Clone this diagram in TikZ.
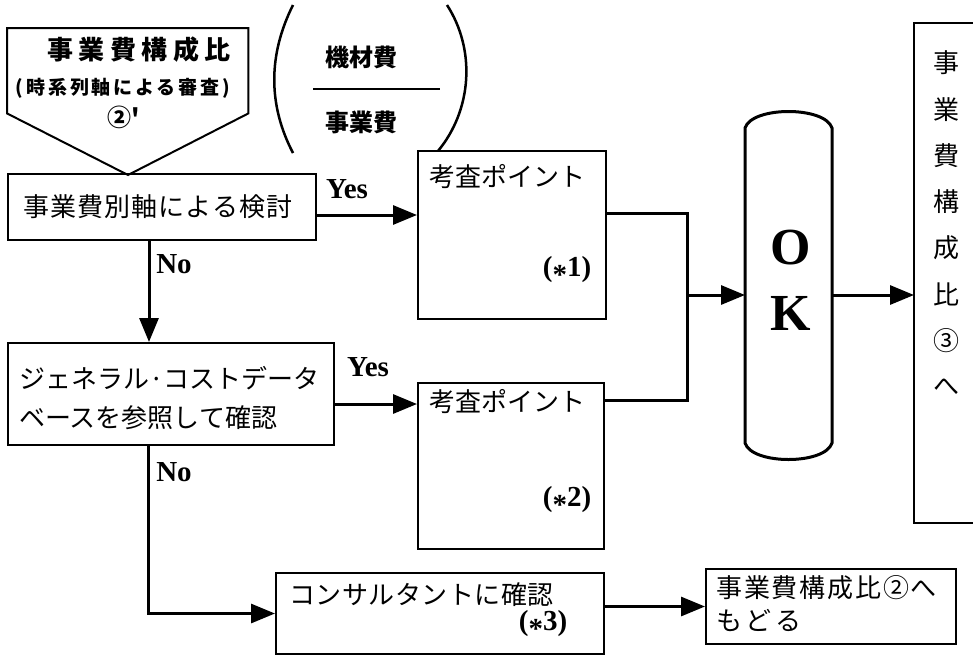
\documentclass[tikz,border=0pt]{standalone}
\usepackage{fontspec}
\setmainfont{Liberation Serif}
\newfontfamily\cjk{Noto Sans CJK JP}
\usetikzlibrary{arrows.meta,calc}
\newcommand\cjt[3]{{\cjk\fontsize{#1}{#1}\selectfont\addfontfeature{LetterSpace=#2}#3}}
\newcommand\cjb[3]{{\cjk\bfseries\fontsize{#1}{#1}\selectfont\addfontfeature{LetterSpace=#2}#3}}
\newcommand\lat[2]{{\fontsize{#1}{#1}\selectfont\bfseries #2}}
\newcommand\starnum[1]{\lat{29}{(\raisebox{-0.28em}{*}#1)}}
\begin{document}
\begin{tikzpicture}[x=1pt,y=-1pt,
  bd/.style={line width=2pt,line join=miter},
  box/.style={draw,line width=2pt,inner sep=0pt,anchor=north west},
  ghost/.style={inner sep=0pt,anchor=north west},
  txt/.style={inner sep=0pt},
  conn/.style={line width=3pt,-{Triangle[length=24pt,width=19pt]}},
  wire/.style={line width=3pt}]
\useasboundingbox[fill=white] (0,0) rectangle (973,654);

% pentagon connector
\node[ghost,minimum width=241pt,minimum height=85pt] (pent) at (7,28) {};
\coordinate (tip) at (128,175);
\draw[bd] (pent.south west) -- (pent.north west) -- (pent.north east) -- (pent.south east) -- (tip) -- cycle;
\node[txt] (p1) at (139,50) {\cjb{26}{21}{事業費構成比}};
\node[txt] (p2) at (123,88) {\cjb{19}{15}{(時系列軸による審査)}};
\node[txt] (p3) at (124,117) {\cjb{24}{0}{②'}};

% fraction in parentheses
\node[txt] (f1) at (361,57) {\cjb{24}{0}{機材費}};
\node[txt] (f2) at (361,122) {\cjb{24}{0}{事業費}};
\coordinate (fl) at (313,89);
\coordinate (fr) at (440,89);
\draw[line width=2pt] (fl) -- (fr);
\coordinate (lp1) at (293,5); \coordinate (lp2) at (293,153);
\coordinate (rp1) at (447,5); \coordinate (rp2) at (438,151);
\draw[line width=2.5pt] (lp1) .. controls (268,55) and (268,105) .. (lp2);
\draw[line width=2.5pt] (rp1) .. controls (476,50) and (472,110) .. (rp2);

% box 1
\node[box,minimum width=308pt,minimum height=66pt] (b1) at (7,173) {};
\node[txt] (b1t) at (158,207) {\cjt{26}{4}{事業費別軸による検討}};

% box 2
\node[box,minimum width=326pt,minimum height=102pt] (b2) at (7,342) {};
\node[txt,anchor=west] (b2a) at (19,378) {\cjt{26}{0}{ジェネラル·コストデータ}};
\node[txt,anchor=west] (b2b) at (19,418) {\cjt{26}{0}{ベースを参照して確認}};

% review point boxes
\node[box,minimum width=188pt,minimum height=168pt] (k1) at (417,150) {};
\node[txt,anchor=west] (k1t) at (429,177) {\cjt{26}{0}{考査ポイント}};
\node[txt] (k1n) at (567,270) {\starnum{1}};
\node[box,minimum width=186pt,minimum height=166pt] (k2) at (417,382) {};
\node[txt,anchor=west] (k2t) at (429,402) {\cjt{26}{0}{考査ポイント}};
\node[txt] (k2n) at (567,500) {\starnum{2}};

% OK capsule
\node[ghost,minimum width=87pt,minimum height=355pt] (ok) at (745,108) {};
\draw[line width=3pt] (745,443) -- (745,128) .. controls (752,106) and (825,106) .. (832,128)
  -- (832,443) .. controls (825,465) and (752,465) .. (745,443) -- cycle;
\node[txt] (oko) at (791,248) {\lat{52}{O}};
\node[txt] (okk) at (791,313) {\lat{52}{K}};

% right box (open to the right)
\node[ghost,minimum width=80pt,minimum height=500pt] (rb) at (914,23) {};
\draw[bd] (rb.north east) -- (rb.north west) -- (rb.south west) -- (rb.south east);
\foreach \c [count=\i from 0] in {事,業,費,構,成,比,③,へ}
  \node[txt] (v\i) at (946,{63+46.3*\i}) {\cjt{26}{0}{\c}};

% consultant box and return box
\node[box,minimum width=328pt,minimum height=81pt] (b4) at (275,572) {};
\node[txt,anchor=west] (b4t) at (289,595) {\cjt{26}{2}{コンサルタントに確認}};
\node[txt] (b4n) at (543,624) {\starnum{3}};
\node[box,minimum width=250pt,minimum height=75pt] (b5) at (705,568) {};
\node[txt,anchor=west] (b5a) at (716,588) {\cjt{26}{7}{事業費構成比②へ}};
\node[txt,anchor=west] (b5b) at (716,620) {\cjt{26}{15}{もどる}};

% labels
\node[txt] (y1) at (347,189) {\lat{29}{Yes}};
\node[txt] (y2) at (368,367) {\lat{29}{Yes}};
\node[txt] (n1) at (174,264) {\lat{29}{No}};
\node[txt] (n2) at (174,472) {\lat{29}{No}};

% connectors
\draw[conn] ([yshift=-8pt]b1.east) -- ([yshift=-8pt]b1.east -| k1.west);
\draw[conn] ([yshift=-10pt]b2.east) -- ([yshift=-10pt]b2.east -| k2.west);
\draw[conn] ([xshift=-13pt]b1.south) -- ([xshift=-13pt]b1.south |- b2.north);
\draw[conn] ([xshift=-23pt]b2.south) |- (b4.west);
\coordinate (j1) at (687,213);
\coordinate (j2) at (687,400);
\coordinate (jm) at (687,295);
\draw[wire] (k1.east |- j1) -- (j1) -- (j2) -- (k2.east |- j2);
\draw[conn] (jm) -- (jm -| ok.west);
\draw[conn] (ok.east |- jm) -- (rb.west |- jm);
\draw[conn] (b4.east |- b5.west) -- (b5.west);
\end{tikzpicture}
\end{document}
